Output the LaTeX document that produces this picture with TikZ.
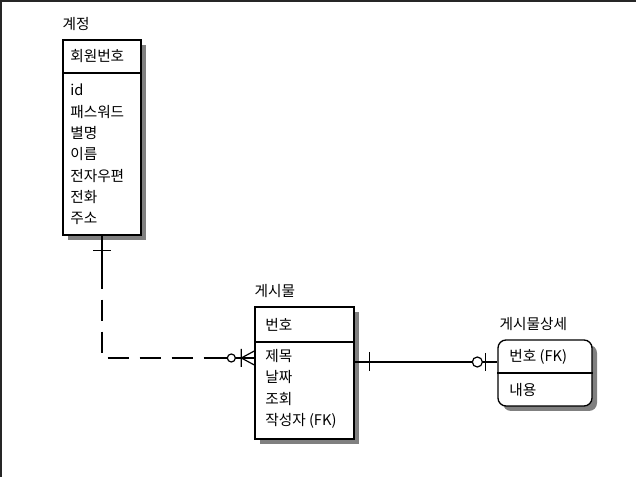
\documentclass[tikz,border=0pt]{standalone}
\usepackage{fontspec}
\newfontfamily\krfont{Noto Sans CJK KR}
\usetikzlibrary{calc,shadows}

\tikzset{
  entbox/.style={draw,line width=1pt,fill=white,inner sep=0pt,
    drop shadow={shadow xshift=3.75pt,shadow yshift=-3.75pt,fill=black!50,opacity=1}},
  enttitle/.style={anchor=base west,inner sep=0pt},
  entrow/.style={anchor=west,inner sep=0pt,align=left},
  rel/.style={line width=0.9pt},
  optrel/.style={rel,dash pattern=on 15.75pt off 8.25pt},
}

\begin{document}
\begin{tikzpicture}[x=0.75pt,y=-0.75pt,font=\krfont\fontsize{11}{16}\selectfont]
  \useasboundingbox (0,0) rectangle (636,477);
  \draw[black!85,line width=1.5pt] (1,477) -- (1,1) -- (636,1);

  % entities
  \node[entbox,minimum width=58.5pt,minimum height=146.25pt] (acct) at (102,137.5) {};
  \node[entbox,minimum width=74.25pt,minimum height=99pt] (post) at (304.5,373) {};
  \node[entbox,rounded corners=6pt,minimum width=70.5pt,minimum height=49.5pt] (detail) at (545,373) {};
  \draw[line width=1pt] (acct.west |- 0,73) -- (acct.east |- 0,73)
    (post.west |- 0,342) -- (post.east |- 0,342)
    (detail.west |- 0,373) -- (detail.east |- 0,373);

  \node[enttitle] (accttitle) at ($(acct.north west)+(0,-10)$) {계정};
  \node[enttitle] (posttitle) at ($(post.north west)+(0,-10)$) {게시물};
  \node[enttitle] (detailtitle) at ($(detail.north west)+(2,-10)$) {게시물상세};

  \node[entrow] (acctkey) at (70,56.5) {회원번호};
  \node[entrow] (acctattr) at (70,154.5) {id\\패스워드\\별명\\이름\\전자우편\\전화\\주소};
  \node[entrow] (postkey) at (265,324.5) {번호};
  \node[entrow] (postattr) at (265,389) {제목\\날짜\\조회\\작성자 (FK)};
  \node[entrow] (detailkey) at (509,356.5) {번호 (FK)};
  \node[entrow] (detailattr) at (509,390) {내용};

  % 계정 -> 게시물
  \draw[optrel] (acct.south) |- ($(post.west)+(0,-15)$);
  \draw[rel] (acct.south) -- +(0,37);
  \draw[rel] ($(post.west)+(0,-15)$) -- +(-33,0);
  \draw[rel] ($(acct.south)+(-9,15)$) -- +(18,0);
  \draw[rel] ($(post.west)+(-13,-15)$) -- ($(post.west)+(0,-22)$)
    ($(post.west)+(-13,-15)$) -- ($(post.west)+(0,-8)$)
    ($(post.west)+(-13,-24)$) -- +(0,18);
  \draw[rel,fill=white] ($(post.west)+(-23,-15)$) circle[radius=3pt];

  % 게시물 -> 게시물상세
  \draw[rel] ($(post.east)+(0,-11)$) -- ($(detail.west)+(0,-11)$);
  \draw[rel] ($(post.east)+(15,-21)$) -- +(0,19);
  \draw[rel] ($(detail.west)+(-12,-20)$) -- +(0,18);
  \draw[rel,fill=white] ($(detail.west)+(-20,-11)$) circle[radius=3.75pt];
\end{tikzpicture}
\end{document}
